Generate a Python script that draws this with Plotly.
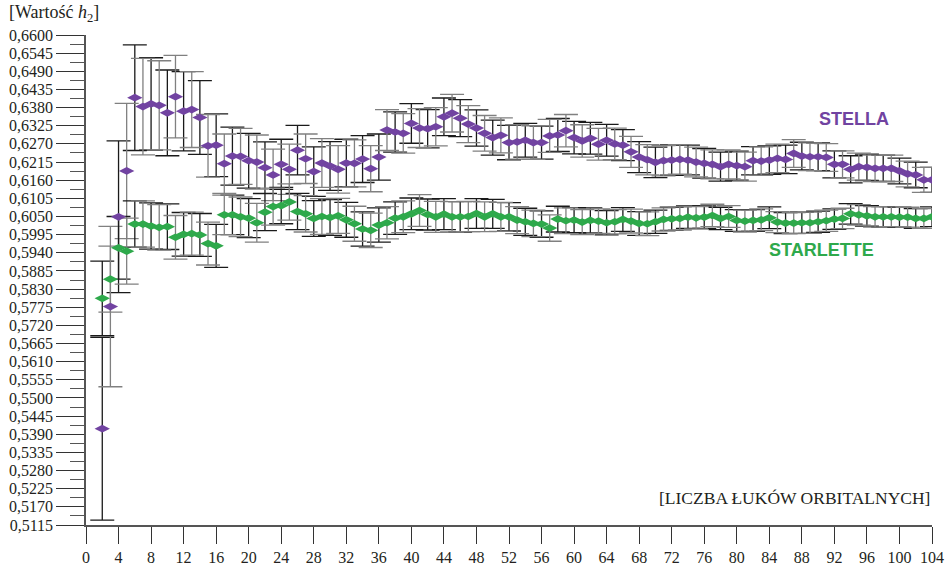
import plotly.graph_objects as go

# Number of orbital arcs used in the solution
arcs = list(range(2, 105))

# Estimated h2 Love number and its formal error, STELLA
stella = [
    0.5407, 0.5777, 0.6049, 0.6188, 0.6410, 0.6383, 0.6391, 0.6387, 0.6364, 0.6413,
    0.6369, 0.6374, 0.6350, 0.6264, 0.6266, 0.6210, 0.6233, 0.6232, 0.6219, 0.6215,
    0.6198, 0.6176, 0.6208, 0.6193, 0.6251, 0.6225, 0.6186, 0.6212, 0.6203, 0.6193,
    0.6212, 0.6211, 0.6224, 0.6195, 0.6230, 0.6312, 0.6306, 0.6302, 0.6332, 0.6318,
    0.6316, 0.6322, 0.6352, 0.6363, 0.6348, 0.6330, 0.6318, 0.6302, 0.6289, 0.6296,
    0.6274, 0.6276, 0.6281, 0.6274, 0.6274, 0.6294, 0.6297, 0.6310, 0.6289, 0.6279,
    0.6287, 0.6269, 0.6281, 0.6270, 0.6266, 0.6246, 0.6230, 0.6222, 0.6214, 0.6219,
    0.6221, 0.6223, 0.6221, 0.6215, 0.6211, 0.6208, 0.6201, 0.6208, 0.6204, 0.6201,
    0.6219, 0.6218, 0.6221, 0.6226, 0.6223, 0.6241, 0.6233, 0.6231, 0.6231, 0.6229,
    0.6208, 0.6208, 0.6193, 0.6201, 0.6199, 0.6196, 0.6196, 0.6196, 0.6188, 0.6179,
    0.6176, 0.6161, 0.6161,
]
stella_err = [
    0.0277, 0.0243, 0.0230, 0.0205, 0.0160, 0.0146, 0.0140, 0.0135, 0.0130, 0.0125,
    0.0120, 0.0115, 0.0112, 0.0095, 0.0095, 0.0090, 0.0088, 0.0085, 0.0083, 0.0082,
    0.0078, 0.0078, 0.0076, 0.0076, 0.0075, 0.0075, 0.0075, 0.0074, 0.0074, 0.0072,
    0.0072, 0.0071, 0.0071, 0.0070, 0.0070, 0.0062, 0.0061, 0.0060, 0.0060, 0.0059,
    0.0058, 0.0058, 0.0057, 0.0057, 0.0056, 0.0056, 0.0055, 0.0054, 0.0053, 0.0053,
    0.0052, 0.0052, 0.0051, 0.0051, 0.0050, 0.0050, 0.0050, 0.0049, 0.0049, 0.0049,
    0.0048, 0.0048, 0.0048, 0.0048, 0.0047, 0.0047, 0.0047, 0.0046, 0.0046, 0.0046,
    0.0046, 0.0045, 0.0045, 0.0045, 0.0045, 0.0044, 0.0044, 0.0044, 0.0044, 0.0044,
    0.0043, 0.0043, 0.0043, 0.0043, 0.0043, 0.0042, 0.0042, 0.0042, 0.0042, 0.0042,
    0.0041, 0.0041, 0.0041, 0.0041, 0.0040, 0.0040, 0.0040, 0.0040, 0.0039, 0.0039,
    0.0039, 0.0038, 0.0038,
]

# Estimated h2 Love number and its formal error, STARLETTE
starlette = [
    0.5802, 0.5860, 0.5955, 0.5945, 0.6027, 0.6027, 0.6021, 0.6017, 0.6019, 0.5987,
    0.5996, 0.5998, 0.5994, 0.5968, 0.5961, 0.6055, 0.6055, 0.6049, 0.6045, 0.6031,
    0.6063, 0.6080, 0.6083, 0.6094, 0.6065, 0.6058, 0.6044, 0.6050, 0.6047, 0.6052,
    0.6040, 0.6028, 0.6012, 0.6008, 0.6024, 0.6031, 0.6045, 0.6049, 0.6058, 0.6068,
    0.6056, 0.6049, 0.6057, 0.6049, 0.6049, 0.6050, 0.6059, 0.6049, 0.6058, 0.6049,
    0.6049, 0.6039, 0.6034, 0.6029, 0.6027, 0.6015, 0.6042, 0.6037, 0.6039, 0.6033,
    0.6038, 0.6036, 0.6031, 0.6034, 0.6041, 0.6036, 0.6029, 0.6028, 0.6034, 0.6041,
    0.6043, 0.6044, 0.6048, 0.6046, 0.6048, 0.6053, 0.6044, 0.6050, 0.6038, 0.6036,
    0.6038, 0.6040, 0.6046, 0.6033, 0.6030, 0.6030, 0.6031, 0.6031, 0.6034, 0.6037,
    0.6042, 0.6044, 0.6058, 0.6055, 0.6052, 0.6049, 0.6049, 0.6049, 0.6048, 0.6048,
    0.6044, 0.6044, 0.6049,
]
starlette_err = [
    0.0113, 0.0100, 0.0095, 0.0100, 0.0070, 0.0070, 0.0070, 0.0069, 0.0069, 0.0066,
    0.0066, 0.0065, 0.0065, 0.0065, 0.0065, 0.0060, 0.0060, 0.0060, 0.0059, 0.0059,
    0.0056, 0.0056, 0.0055, 0.0055, 0.0055, 0.0055, 0.0054, 0.0054, 0.0054, 0.0053,
    0.0053, 0.0053, 0.0052, 0.0052, 0.0052, 0.0049, 0.0049, 0.0048, 0.0048, 0.0048,
    0.0047, 0.0047, 0.0047, 0.0046, 0.0046, 0.0046, 0.0045, 0.0045, 0.0044, 0.0044,
    0.0043, 0.0041, 0.0041, 0.0040, 0.0040, 0.0040, 0.0039, 0.0039, 0.0038, 0.0038,
    0.0038, 0.0037, 0.0037, 0.0037, 0.0036, 0.0036, 0.0036, 0.0036, 0.0035, 0.0035,
    0.0035, 0.0035, 0.0034, 0.0034, 0.0034, 0.0034, 0.0034, 0.0033, 0.0033, 0.0033,
    0.0033, 0.0033, 0.0033, 0.0032, 0.0032, 0.0032, 0.0032, 0.0032, 0.0032, 0.0032,
    0.0031, 0.0031, 0.0031, 0.0031, 0.0031, 0.0031, 0.0031, 0.0030, 0.0030, 0.0030,
    0.0030, 0.0030, 0.0030,
]

y_tick_labels = [
    "0,5115", "0,5170", "0,5225", "0,5280", "0,5335", "0,5390", "0,5445",
    "0,5500", "0,5555", "0,5610", "0,5665", "0,5720", "0,5775", "0,5830",
    "0,5885", "0,5940", "0,5995", "0,6050", "0,6105", "0,6160", "0,6215",
    "0,6270", "0,6325", "0,6380", "0,6435", "0,6490", "0,6545", "0,6600",
]
x_tick_vals = [0, 4, 8, 12, 16, 20, 24, 28, 32, 36, 40, 44, 48, 52,
               56, 60, 64, 68, 72, 76, 80, 84, 88, 92, 96, 100, 104]

PURPLE = "#7143a1"
GREEN = "#2ea94b"
SERIF = "Liberation Serif, Times New Roman, serif"
SANS_BOLD = "Liberation Sans, Arial, sans-serif"
TEXT = "#231f20"

fig = go.Figure()

# Error bars first (even arcs drawn dark, odd arcs lighter), markers on top
for values, errors in ((stella, stella_err), (starlette, starlette_err)):
    for parity, bar_color in ((0, "#1a1a1a"), (1, "#808080")):
        idx = [i for i, n in enumerate(arcs) if n % 2 == parity]
        fig.add_trace(go.Scatter(
            x=[arcs[i] for i in idx],
            y=[values[i] for i in idx],
            mode="markers",
            marker=dict(size=1, opacity=0),
            error_y=dict(type="data", array=[errors[i] for i in idx],
                         symmetric=True, color=bar_color, thickness=1.3, width=12),
            hoverinfo="skip",
            showlegend=False,
        ))

for name, values, color in (("STELLA", stella, PURPLE), ("STARLETTE", starlette, GREEN)):
    fig.add_trace(go.Scatter(
        x=arcs, y=values, mode="markers", name=name,
        marker=dict(symbol="diamond-wide", size=11, color=color, line=dict(width=0)),
        showlegend=False,
    ))

fig.add_annotation(x=94.4, y=0.6345, xref="x", yref="y", text="<b>STELLA</b>",
                   showarrow=False, font=dict(family=SANS_BOLD, size=18, color=PURPLE))
fig.add_annotation(x=90.4, y=0.5947, xref="x", yref="y", text="<b>STARLETTE</b>",
                   showarrow=False, font=dict(family=SANS_BOLD, size=18, color=GREEN))

fig.add_annotation(x=-0.0935, y=1.043, xref="paper", yref="paper",
                   text="[Wartość <i>h</i><sub>2</sub>]", showarrow=False,
                   xanchor="left", yanchor="middle",
                   font=dict(family=SERIF, size=18, color=TEXT))
fig.add_annotation(x=1.0, y=0.055, xref="paper", yref="paper",
                   text="[LICZBA ŁUKÓW ORBITALNYCH]", showarrow=False,
                   xanchor="right", yanchor="middle",
                   font=dict(family=SERIF, size=17.5, color=TEXT))

fig.update_layout(
    width=952, height=568,
    margin=dict(l=86, r=20, t=35, b=43, autoexpand=False),
    paper_bgcolor="white", plot_bgcolor="white",
    showlegend=False,
    xaxis=dict(
        range=[0, 104], tickmode="array", tickvals=x_tick_vals,
        ticks="outside", ticklen=17, tickwidth=1, tickcolor="#333",
        showline=True, linecolor="#555", linewidth=1.5,
        showgrid=False, zeroline=False, automargin=False,
        tickfont=dict(family=SERIF, size=16, color=TEXT),
    ),
    yaxis=dict(
        range=[0.5115, 0.66], tickmode="array",
        tickvals=[float(s.replace(",", ".")) for s in y_tick_labels],
        ticktext=y_tick_labels,
        ticks="outside", ticklen=28, tickwidth=1, tickcolor="#333",
        minor=dict(ticks="outside", ticklen=14, tickwidth=1, tickcolor="#555",
                   tick0=0.5115, dtick=0.00275, showgrid=False),
        showline=True, linecolor="#555", linewidth=1.5,
        showgrid=False, zeroline=False, automargin=False,
        tickfont=dict(family=SERIF, size=16, color=TEXT),
    ),
)

fig.write_html("out.html")
